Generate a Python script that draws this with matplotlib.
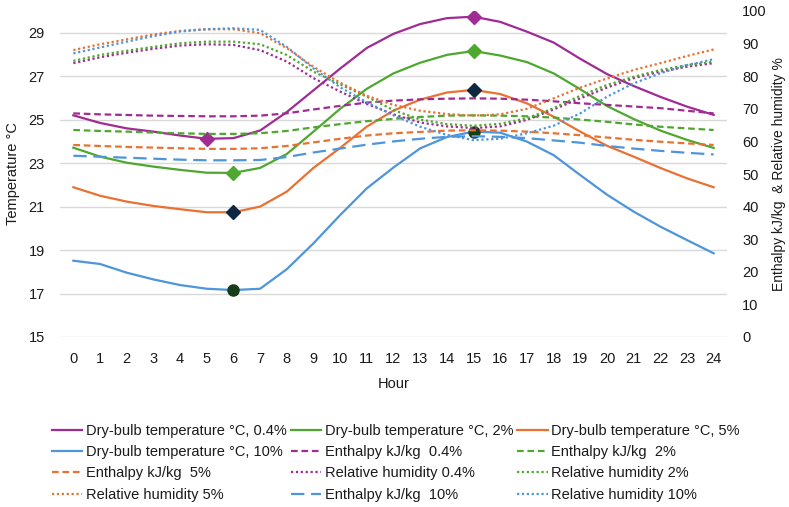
import matplotlib
matplotlib.use("Agg")
import matplotlib.pyplot as plt
from matplotlib.lines import Line2D

hours = list(range(25))
hour_labels = [str(h) for h in hours]

db_04 = [25.2, 24.85, 24.6, 24.45, 24.27, 24.12, 24.15, 24.5, 25.35, 26.35, 27.35, 28.3, 28.95, 29.4, 29.67, 29.74, 29.5, 29.05, 28.55, 27.8, 27.1, 26.55, 26.05, 25.6, 25.22]
db_2 = [23.71, 23.3, 23.02, 22.84, 22.69, 22.56, 22.55, 22.78, 23.42, 24.45, 25.5, 26.42, 27.13, 27.62, 27.98, 28.16, 27.95, 27.65, 27.13, 26.4, 25.63, 25.03, 24.5, 24.07, 23.7]
db_5 = [21.89, 21.5, 21.23, 21.03, 20.88, 20.74, 20.74, 21.0, 21.69, 22.78, 23.7, 24.68, 25.42, 25.92, 26.25, 26.37, 26.18, 25.75, 25.14, 24.45, 23.8, 23.3, 22.78, 22.3, 21.89]
db_10 = [18.51, 18.36, 17.96, 17.65, 17.39, 17.22, 17.16, 17.22, 18.12, 19.31, 20.61, 21.84, 22.8, 23.68, 24.2, 24.45, 24.4, 23.99, 23.37, 22.45, 21.55, 20.77, 20.08, 19.46, 18.85]

enth_04 = [68.6, 68.3, 68.1, 67.9, 67.8, 67.7, 67.7, 67.9, 68.6, 69.8, 70.9, 71.9, 72.5, 72.9, 73.1, 73.2, 73.1, 72.8, 72.3, 71.7, 71.2, 70.7, 70.2, 69.4, 68.6]
enth_2 = [63.5, 63.2, 63.0, 62.7, 62.5, 62.3, 62.3, 62.5, 63.2, 64.3, 65.3, 66.2, 66.9, 67.5, 67.9, 68.0, 67.9, 67.7, 67.3, 66.7, 66.0, 65.2, 64.5, 64.0, 63.5]
enth_5 = [58.9, 58.6, 58.3, 58.1, 57.9, 57.7, 57.7, 57.9, 58.6, 59.7, 60.8, 61.8, 62.5, 62.9, 63.3, 63.4, 63.3, 63.0, 62.5, 61.9, 61.2, 60.5, 59.9, 59.4, 58.9]
enth_10 = [55.6, 55.3, 55.0, 54.7, 54.4, 54.2, 54.2, 54.3, 55.2, 56.6, 57.8, 59.0, 60.0, 60.8, 61.4, 61.6, 61.4, 61.0, 60.3, 59.6, 58.6, 57.8, 57.1, 56.5, 56.0]

rh_04 = [84.0, 85.8, 87.2, 88.4, 89.4, 89.8, 89.6, 88.0, 84.5, 79.4, 75.3, 71.5, 68.3, 65.8, 64.6, 64.1, 64.6, 66.6, 69.8, 73.2, 76.5, 79.4, 81.4, 82.9, 84.0]
rh_2 = [84.7, 86.5, 87.8, 89.0, 90.1, 90.6, 90.6, 89.8, 86.5, 81.4, 77.5, 73.7, 69.6, 66.7, 65.3, 64.8, 65.4, 67.1, 70.2, 74.0, 77.3, 79.8, 81.9, 83.4, 84.4]
rh_5 = [88.0, 89.8, 91.3, 92.8, 93.9, 94.4, 94.4, 93.2, 88.6, 82.9, 78.0, 74.0, 71.2, 69.4, 68.4, 67.9, 68.3, 70.0, 73.2, 76.5, 79.3, 81.9, 84.0, 86.2, 88.2]
rh_10 = [87.0, 88.8, 90.6, 92.3, 93.7, 94.4, 94.7, 94.2, 89.0, 82.4, 76.6, 72.0, 68.0, 64.5, 62.0, 60.4, 60.8, 62.5, 64.8, 68.6, 73.7, 77.8, 80.9, 83.4, 85.2]

temp_ticks = [15, 17, 19, 21, 23, 25, 27, 29]
right_ticks = [0, 10, 20, 30, 40, 50, 60, 70, 80, 90, 100]

PURPLE = "#A02B93"
GREEN = "#4EA72E"
ORANGE = "#E97132"
BLUE = "#4E95D9"
NAVY = "#0E2841"
DKGREEN = "#153D18"

plt.rcParams["font.family"] = ["Liberation Sans", "DejaVu Sans"]
FS = 10.5
TXT = "#1a1a1a"

fig = plt.figure(figsize=(7.89, 5.07), dpi=100)
ax = fig.add_axes([60/789, 1-337/507, (727-60)/789, (337-11)/507])
ax2 = ax.twinx()

lw = 1.6
dash = (0, (3, 1.7))
longdash = (0, (6, 3))
dot = (0, (1, 1.2))

specs = [
    ("db04", ax, db_04, PURPLE, "-", "Dry-bulb temperature °C, 0.4%"),
    ("db2", ax, db_2, GREEN, "-", "Dry-bulb temperature °C, 2%"),
    ("db5", ax, db_5, ORANGE, "-", "Dry-bulb temperature °C, 5%"),
    ("db10", ax, db_10, BLUE, "-", "Dry-bulb temperature °C, 10%"),
    ("e04", ax2, enth_04, PURPLE, dash, "Enthalpy kJ/kg  0.4%"),
    ("e2", ax2, enth_2, GREEN, dash, "Enthalpy kJ/kg  2%"),
    ("e5", ax2, enth_5, ORANGE, dash, "Enthalpy kJ/kg  5%"),
    ("rh04", ax2, rh_04, PURPLE, dot, "Relative humidity 0.4%"),
    ("rh2", ax2, rh_2, GREEN, dot, "Relative humidity 2%"),
    ("rh5", ax2, rh_5, ORANGE, dot, "Relative humidity 5%"),
    ("e10", ax2, enth_10, BLUE, longdash, "Enthalpy kJ/kg  10%"),
    ("rh10", ax2, rh_10, BLUE, dot, "Relative humidity 10%"),
]

handles = {}
labels = {}
for key, a, vals, col, ls, lab in specs:
    a.plot(hours, vals, color=col, lw=lw, ls=ls)
    handles[key] = Line2D([], [], color=col, lw=lw, ls=ls)
    labels[key] = lab

# highlighted min / max markers
ax.plot(hours, db_04, ls="none", marker="D", markevery=[5, 15], ms=7.5, mfc=PURPLE, mec=PURPLE)
ax.plot(hours, db_2, ls="none", marker="D", markevery=[6, 15], ms=7.5, mfc=GREEN, mec=GREEN)
ax.plot(hours, db_5, ls="none", marker="D", markevery=[6, 15], ms=7.5, mfc=NAVY, mec=NAVY)
ax.plot(hours, db_10, ls="none", marker="o", markevery=[6, 15], ms=8, mfc=DKGREEN, mec=DKGREEN)
ax.set_zorder(ax2.get_zorder() - 1) if False else None

ax.set_xlim(-0.5, 24.5)
ax.set_ylim(15, 30)
ax2.set_ylim(0, 100)
ax.set_xticks(hours)
ax.set_xticklabels(hour_labels)
ax.set_yticks(temp_ticks)
ax2.set_yticks(right_ticks)
ax.grid(axis="y", color="#D9D9D9", lw=1)
ax.set_axisbelow(True)
for a in (ax, ax2):
    for s in a.spines.values():
        s.set_visible(False)
ax.tick_params(axis="both", length=0, labelsize=FS, colors=TXT)
ax.tick_params(axis="y", pad=11)
ax.tick_params(axis="x", pad=11)
ax2.tick_params(axis="y", length=0, labelsize=FS, colors=TXT, pad=11)

ax.set_xlabel("Hour", fontsize=FS, color=TXT, labelpad=8)
ax.set_ylabel("Temperature °C", fontsize=FS, color=TXT, labelpad=6)
ax2.set_ylabel("Enthalpy kJ/kg  & Relative humidity %", fontsize=10, color=TXT, labelpad=4)

order = ["db04", "db10", "e5", "rh5", "db2", "e04", "rh04", "e10", "db5", "e2", "rh2", "rh10"]
leg = fig.legend([handles[k] for k in order], [labels[k] for k in order], ncol=3, loc="upper left",
                 bbox_to_anchor=(46/789, 1-418/507), frameon=False, fontsize=FS, handlelength=2.1,
                 handletextpad=0.25, columnspacing=0.25, labelspacing=0.5, borderaxespad=0)
for t in leg.get_texts():
    t.set_color(TXT)

fig.savefig("out.png", dpi=100)
